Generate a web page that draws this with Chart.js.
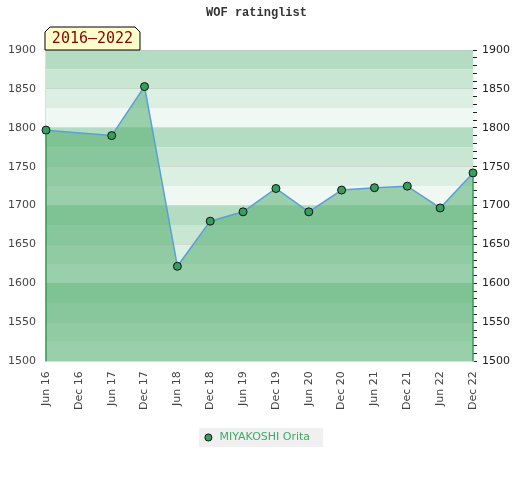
<!DOCTYPE html>
<html>
<head>
<meta charset="utf-8">
<script src="https://cdn.jsdelivr.net/npm/chart.js@4/dist/chart.umd.min.js"></script>
<style>
  body { margin: 0; background: #fff; }
  #wrap { width: 520px; height: 480px; }
</style>
</head>
<body>
<div id="wrap"><canvas id="myChart" width="520" height="480"></canvas></div>
<script>
// periods on the x axis (no result for Dec 16)
const periods = ['Jun 16', 'Dec 16', 'Jun 17', 'Dec 17', 'Jun 18', 'Dec 18', 'Jun 19',
                 'Dec 19', 'Jun 20', 'Dec 20', 'Jun 21', 'Dec 21', 'Jun 22', 'Dec 22'];
const ratings = [1797, null, 1790, 1853, 1622, 1680, 1692, 1722, 1692, 1720, 1723, 1725, 1697, 1742];
const playerName = 'MIYAKOSHI Orita';
const chartTitle = 'WOF ratinglist';
const rangeLabel = '2016\u20132022';
const yMin = 1500;
const yMax = 1900;

// striped background, repeats every 100 points (top band darkest)
const bandColors = ['#b3dcc2', '#c8e6d2', '#dcefe3', '#f0f8f3'];

const bandsPlugin = {
    id: 'bands',
    beforeDraw(chart) {
        const { ctx, chartArea, scales } = chart;
        const y = scales.y;
        ctx.save();
        let i = 0;
        for (let v = y.max; v > y.min; v -= 25) {
            const top = y.getPixelForValue(v);
            const bottom = y.getPixelForValue(v - 25);
            ctx.fillStyle = bandColors[i % 4];
            ctx.fillRect(chartArea.left, top, chartArea.right - chartArea.left, bottom - top);
            i++;
        }
        // legend background
        const box = chart.legend.legendHitBoxes[0];
        if (box) {
            ctx.fillStyle = '#f0f0f0';
            ctx.fillRect(box.left - 4, box.top - 4, box.width + 17, box.height + 8);
        }
        ctx.restore();
    }
};

const dropLinesPlugin = {
    id: 'dropLines',
    afterDatasetsDraw(chart) {
        const { ctx, chartArea } = chart;
        const pts = chart.getDatasetMeta(0).data.filter((p, i) => ratings[i] !== null);
        ctx.save();
        ctx.strokeStyle = '#2fa052';
        ctx.lineWidth = 1.5;
        [pts[0], pts[pts.length - 1]].forEach(p => {
            ctx.beginPath();
            ctx.moveTo(p.x, p.y + 4);
            ctx.lineTo(p.x, chartArea.bottom);
            ctx.stroke();
        });
        ctx.restore();
    }
};

const badgePlugin = {
    id: 'badge',
    afterDraw(chart) {
        const { ctx, chartArea } = chart;
        const x = chartArea.left - 1, b = chartArea.top, w = 95, h = 23, c = 5;
        ctx.save();
        ctx.beginPath();
        ctx.moveTo(x, b);
        ctx.lineTo(x, b - h + c);
        ctx.lineTo(x + c, b - h);
        ctx.lineTo(x + w - c, b - h);
        ctx.lineTo(x + w, b - h + c);
        ctx.lineTo(x + w, b);
        ctx.closePath();
        ctx.fillStyle = '#ffffcc';
        ctx.fill();
        ctx.strokeStyle = '#000';
        ctx.lineWidth = 1;
        ctx.stroke();
        ctx.fillStyle = '#8b0000';
        ctx.font = '15px "DejaVu Sans Mono"';
        ctx.textAlign = 'center';
        ctx.textBaseline = 'middle';
        ctx.fillText(rangeLabel, x + w / 2, b - h / 2 + 1);
        ctx.restore();
    }
};

const ctx = document.getElementById('myChart').getContext('2d');
const chart = new Chart(ctx, {
    type: 'line',
    data: {
        labels: periods,
        datasets: [{
            label: playerName,
            data: ratings,
            spanGaps: true,
            borderColor: '#5b9fd8',
            borderWidth: 1.5,
            backgroundColor: 'rgba(84, 173, 112, 0.55)',
            fill: 'start',
            tension: 0,
            pointRadius: 4,
            pointHoverRadius: 4,
            pointBackgroundColor: '#35a05e',
            pointBorderColor: '#111',
            pointBorderWidth: 1
        }]
    },
    options: {
        responsive: false,
        animation: false,
        layout: { autoPadding: false, padding: { left: -2, right: 5, top: 0, bottom: 27 } },
        plugins: {
            title: {
                display: true,
                text: chartTitle,
                color: '#333',
                font: { family: 'Liberation Mono', size: 12, weight: 'bold' },
                padding: { top: 6, bottom: 29.6 }
            },
            legend: {
                position: 'bottom',
                labels: {
                    usePointStyle: true,
                    boxWidth: 11,
                    boxHeight: 5,
                    color: '#3daa64',
                    font: { family: 'DejaVu Sans', size: 11 },
                    padding: 12
                }
            },
            tooltip: { enabled: false }
        },
        scales: {
            x: {
                offset: false,
                grid: { drawOnChartArea: false, drawTicks: false },
                border: { display: true, color: '#ddd' },
                ticks: {
                    autoSkip: false,
                    minRotation: 90,
                    maxRotation: 90,
                    padding: 10,
                    color: '#444',
                    font: { family: 'DejaVu Sans', size: 11 }
                },
                afterFit: scale => { scale.paddingLeft = 0; }
            },
            y: {
                position: 'left',
                min: yMin,
                max: yMax,
                grid: { color: 'rgba(190, 190, 190, 0.45)', drawTicks: false },
                border: { display: true, color: '#ddd' },
                ticks: {
                    stepSize: 50,
                    padding: 10,
                    color: '#444',
                    font: { family: 'DejaVu Sans', size: 11 },
                    callback: v => String(v)
                }
            },
            y2: {
                position: 'right',
                min: yMin,
                max: yMax,
                grid: { drawOnChartArea: false, tickLength: 4, tickColor: '#222' },
                border: { display: false },
                ticks: {
                    stepSize: 10,
                    autoSkip: false,
                    padding: 5,
                    color: '#222',
                    font: { family: 'DejaVu Sans', size: 11 },
                    callback: v => (v % 50 === 0 ? String(v) : '')
                }
            }
        }
    },
    plugins: [bandsPlugin, dropLinesPlugin, badgePlugin]
});
</script>
</body>
</html>
